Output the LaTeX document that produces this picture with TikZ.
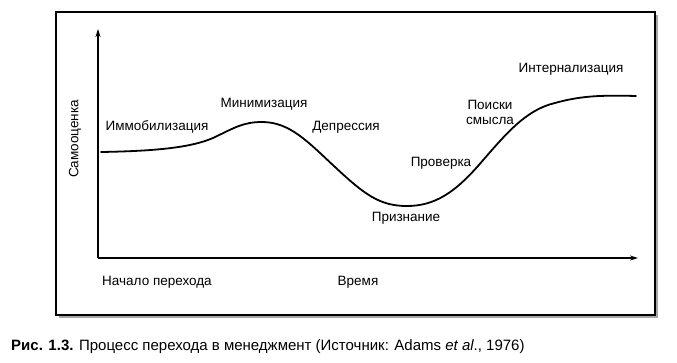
\documentclass[tikz,border=0pt]{standalone}
\usepackage{fontspec}
\setmainfont{Liberation Sans}
\usetikzlibrary{arrows.meta}
\begin{document}
\begin{tikzpicture}[x=1pt,y=-1pt,
  lbl/.style={font=\fontsize{13.5}{15}\selectfont, inner sep=0pt, align=center},
  axis/.style={line width=1.2pt, -{Stealth[length=8pt,width=5pt]}},
  curve/.style={line width=1.8pt, line cap=round}]
\useasboundingbox[fill=white] (0,0) rectangle (677,362);
% frame with shadow
\fill[gray!70] (59,15) rectangle (658,318);
\draw[line width=1.3pt, fill=white] (56,12) rectangle (655,315);
% axes
\coordinate (O) at (98,258);
\coordinate (Ytop) at (98,29);
\coordinate (Xend) at (638,258);
\draw[axis] (O) -- (Ytop);
\draw[axis] (O) -- (Xend);
% curve
\draw[curve] (101,152) .. controls (160,151) and (192,147) .. (213,138)
  .. controls (234,128) and (243,122) .. (262,122)
  .. controls (290,122) and (308,142) .. (335,167)
  .. controls (365,195) and (380,206) .. (407,206)
  .. controls (435,206) and (455,192) .. (478,166)
  .. controls (505,135) and (525,110) .. (555,103)
  .. controls (580,96) and (600,95) .. (636,96);
% labels
\node[lbl] (imm) at (157,127) {Иммобилизация};
\node[lbl] (min) at (264,104) {Минимизация};
\node[lbl] (dep) at (346,127) {Депрессия};
\node[lbl] (prov) at (441,163) {Проверка};
\node[lbl] (priz) at (406,218) {Признание};
\node[lbl] (pois) at (490,112) {Поиски\\смысла};
\node[lbl] (int) at (571,69) {Интернализация};
\node[lbl] (nach) at (157,282) {Начало перехода};
\node[lbl] (vrem) at (358,282) {Время};
\node[lbl, rotate=90] (samo) at (75,139) {Самооценка};
\node[lbl, anchor=west, font=\fontsize{15}{17}\selectfont] (cap) at (11,347) {\textbf{Рис. 1.3.} Процесс перехода в менеджмент (Источник: Adams \textit{et al}., 1976)};
\end{tikzpicture}
\end{document}
